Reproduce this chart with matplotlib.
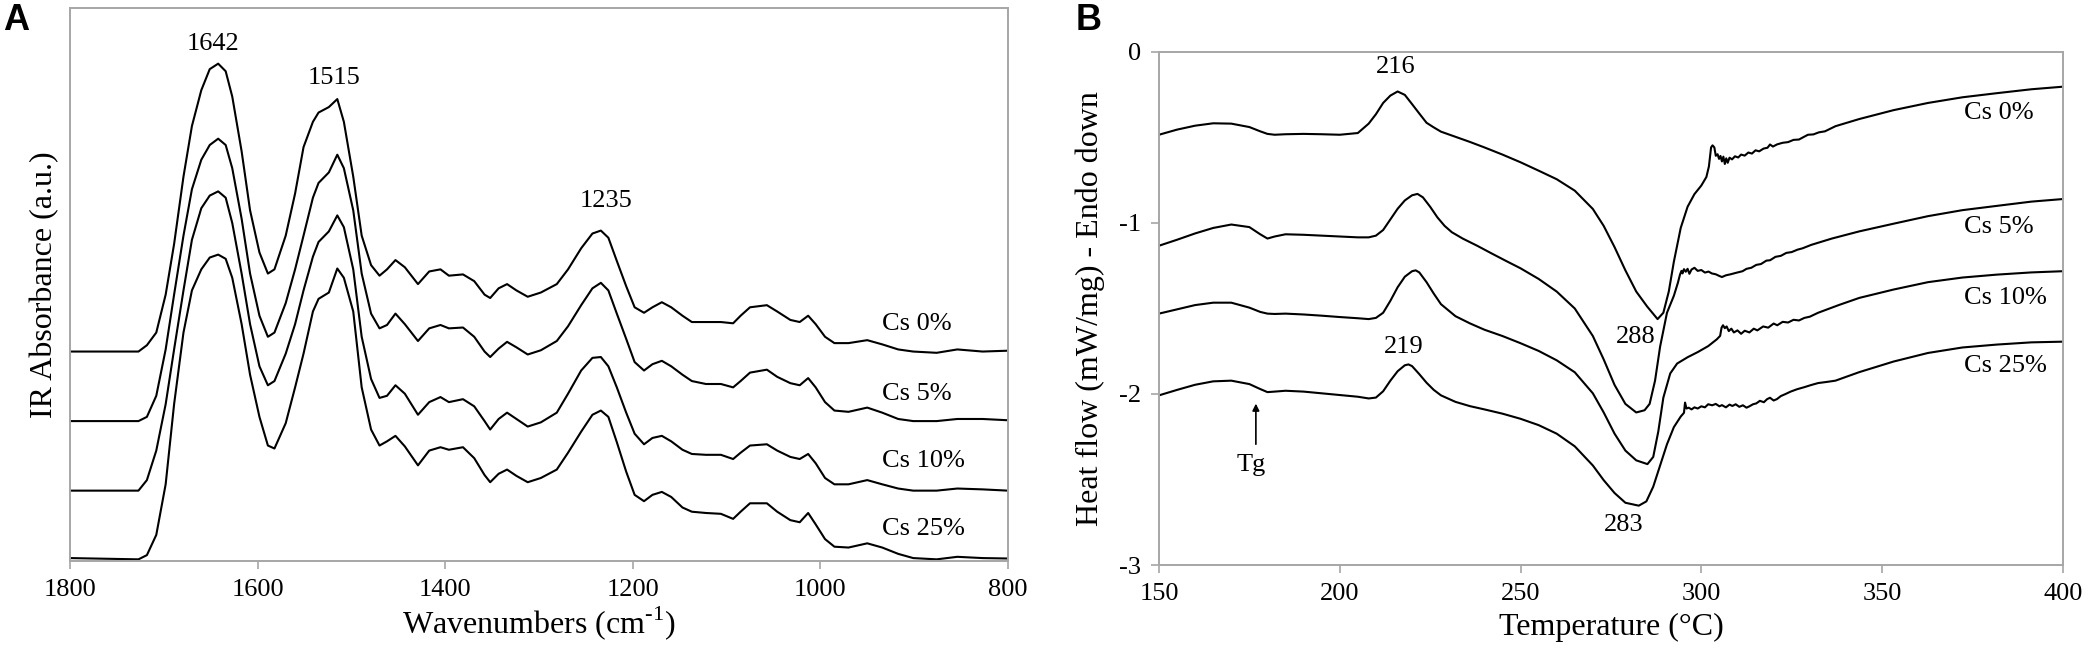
import matplotlib
matplotlib.use("Agg")
import matplotlib.pyplot as plt

plt.rcParams['font.family'] = ['Liberation Serif', 'DejaVu Serif']
plt.rcParams['mathtext.fontset'] = 'custom'
plt.rcParams['mathtext.rm'] = 'Liberation Serif'
plt.rcParams['axes.unicode_minus'] = False

# ---------------- Panel A : FTIR spectra ----------------
wavenumber = [1800, 1727, 1718, 1708, 1698, 1689, 1679, 1670, 1660, 1651,
              1642, 1634, 1627, 1617, 1608, 1598, 1589, 1582, 1570, 1560,
              1551, 1541, 1535, 1524, 1515, 1508, 1498, 1489, 1479, 1470,
              1462, 1453, 1443, 1429, 1417, 1405, 1396, 1381, 1369, 1358,
              1352, 1343, 1334, 1324, 1312, 1298, 1281, 1269, 1255, 1243,
              1234, 1226, 1217, 1207, 1198, 1188, 1179, 1169, 1159, 1147,
              1137, 1122, 1106, 1093, 1085, 1075, 1057, 1046, 1032, 1022,
              1013, 1005, 995, 985, 970, 950, 934, 917, 901, 876,
              854, 827, 800]

abs_cs0 = [0.493, 0.493, 0.508, 0.538, 0.628, 0.748, 0.908, 1.028, 1.113, 1.163,
           1.176, 1.158, 1.098, 0.968, 0.828, 0.728, 0.678, 0.688, 0.768, 0.868,
           0.978, 1.038, 1.060, 1.073, 1.092, 1.038, 0.908, 0.768, 0.698, 0.673,
           0.688, 0.710, 0.693, 0.653, 0.683, 0.688, 0.673, 0.676, 0.660, 0.628,
           0.620, 0.643, 0.653, 0.638, 0.623, 0.633, 0.653, 0.688, 0.738, 0.773,
           0.780, 0.763, 0.708, 0.648, 0.598, 0.585, 0.598, 0.610, 0.598, 0.578,
           0.563, 0.563, 0.563, 0.560, 0.578, 0.598, 0.603, 0.588, 0.568, 0.563,
           0.578, 0.558, 0.528, 0.513, 0.513, 0.520, 0.510, 0.498, 0.493, 0.490,
           0.498, 0.493, 0.495]
abs_cs5 = [0.328, 0.328, 0.338, 0.388, 0.498, 0.628, 0.768, 0.878, 0.948, 0.983,
           0.998, 0.983, 0.928, 0.808, 0.678, 0.578, 0.528, 0.538, 0.608, 0.688,
           0.768, 0.858, 0.893, 0.918, 0.960, 0.928, 0.828, 0.678, 0.583, 0.548,
           0.556, 0.583, 0.558, 0.518, 0.548, 0.556, 0.548, 0.550, 0.528, 0.493,
           0.480, 0.500, 0.516, 0.503, 0.486, 0.496, 0.518, 0.553, 0.603, 0.643,
           0.656, 0.638, 0.583, 0.523, 0.468, 0.448, 0.463, 0.471, 0.458, 0.438,
           0.423, 0.416, 0.416, 0.408, 0.423, 0.443, 0.450, 0.433, 0.418, 0.413,
           0.430, 0.408, 0.373, 0.353, 0.350, 0.360, 0.348, 0.333, 0.328, 0.328,
           0.333, 0.333, 0.330]
abs_cs10 = [0.163, 0.163, 0.188, 0.258, 0.368, 0.498, 0.638, 0.758, 0.833, 0.863,
            0.873, 0.858, 0.798, 0.678, 0.558, 0.458, 0.413, 0.423, 0.488, 0.558,
            0.638, 0.718, 0.753, 0.778, 0.816, 0.788, 0.688, 0.528, 0.428, 0.383,
            0.388, 0.413, 0.393, 0.343, 0.373, 0.385, 0.373, 0.380, 0.363, 0.328,
            0.308, 0.333, 0.348, 0.333, 0.315, 0.325, 0.348, 0.393, 0.448, 0.478,
            0.480, 0.458, 0.408, 0.348, 0.298, 0.273, 0.288, 0.293, 0.280, 0.260,
            0.250, 0.248, 0.248, 0.238, 0.253, 0.270, 0.273, 0.258, 0.243, 0.238,
            0.250, 0.228, 0.193, 0.178, 0.178, 0.188, 0.178, 0.168, 0.163, 0.163,
            0.168, 0.166, 0.163]
abs_cs25 = [0.003, 0.000, 0.010, 0.058, 0.178, 0.368, 0.538, 0.638, 0.688, 0.716,
            0.723, 0.713, 0.668, 0.558, 0.438, 0.338, 0.270, 0.263, 0.323, 0.408,
            0.488, 0.588, 0.618, 0.633, 0.690, 0.668, 0.588, 0.408, 0.308, 0.270,
            0.280, 0.293, 0.268, 0.223, 0.258, 0.266, 0.260, 0.266, 0.240, 0.200,
            0.183, 0.203, 0.213, 0.198, 0.183, 0.193, 0.213, 0.253, 0.303, 0.343,
            0.353, 0.338, 0.278, 0.208, 0.153, 0.138, 0.153, 0.160, 0.148, 0.123,
            0.113, 0.110, 0.108, 0.096, 0.113, 0.133, 0.133, 0.113, 0.093, 0.088,
            0.110, 0.083, 0.048, 0.030, 0.028, 0.038, 0.028, 0.013, 0.003, 0.000,
            0.006, 0.003, 0.002]

ir_series = [abs_cs0, abs_cs5, abs_cs10, abs_cs25]
series_names = ['Cs 0%', 'Cs 5%', 'Cs 10%', 'Cs 25%']
ir_label_y = [0.558, 0.393, 0.233, 0.073]
ir_peaks = [('1642', 1648, 1.223), ('1515', 1518, 1.143), ('1235', 1229, 0.850)]

# ---------------- Panel B : DSC thermograms ----------------
temp_cs0 = [150, 155, 160, 165, 170, 175, 178, 180, 182, 185, 190, 195, 200, 205, 208,
            210, 212, 214, 216, 218, 220, 222, 224, 226, 228, 232, 236, 240, 245, 250,
            255, 260, 265, 270, 273, 276, 279, 282, 285, 287.9, 289.5, 291, 292.4, 294.3,
            296.2, 298.1, 300, 301.4, 302.1, 302.7, 303.1, 303.6, 304.0, 304.5, 304.9,
            305.3, 305.7, 306.1, 306.5, 306.9, 307.3, 307.8, 308.5, 309.3, 310.2, 311.0,
            312.0, 313.0, 314.0, 315.0, 316.0, 317.2, 318.3, 319.0, 319.8, 321.0, 322.5,
            324.0, 325.5, 327.0, 328.5, 329.5, 331.0, 332.5, 334.2, 337.1, 343.7, 353.2,
            362.7, 372.2, 381.7, 391.3, 400]
hf_cs0 = [-0.484, -0.454, -0.431, -0.417, -0.419, -0.439, -0.464, -0.479, -0.484, -0.481,
          -0.479, -0.481, -0.484, -0.474, -0.419, -0.364, -0.298, -0.255, -0.231, -0.251,
          -0.305, -0.360, -0.414, -0.441, -0.466, -0.496, -0.526, -0.558, -0.600, -0.645,
          -0.694, -0.744, -0.811, -0.918, -1.017, -1.141, -1.277, -1.401, -1.488, -1.562,
          -1.525, -1.401, -1.227, -1.029, -0.905, -0.831, -0.781, -0.731, -0.669, -0.558,
          -0.546, -0.558, -0.607, -0.598, -0.625, -0.608, -0.640, -0.612, -0.655, -0.622,
          -0.648, -0.618, -0.628, -0.610, -0.617, -0.600, -0.606, -0.588, -0.594, -0.575,
          -0.581, -0.565, -0.560, -0.541, -0.553, -0.540, -0.531, -0.527, -0.514, -0.512,
          -0.495, -0.484, -0.482, -0.470, -0.464, -0.434, -0.392, -0.340, -0.298, -0.265,
          -0.241, -0.218, -0.203]

temp_cs5 = [150, 155, 160, 165, 170, 175, 178, 180, 182, 185, 190, 195, 200, 205, 208,
            210, 212, 214, 216, 218, 220, 221.5, 223, 225, 227, 229, 231, 234, 238, 242,
            246, 250, 255, 260, 265, 270, 273, 276, 279, 282, 284.3, 285.7, 287.2, 288.6,
            290.5, 292.4, 293.5, 294.1, 294.5, 294.8, 295.2, 295.7, 296.2, 296.7, 297.3,
            298.1, 299.0, 300.0, 301.0, 302.0, 302.9, 304.0, 305.0, 305.7, 306.8, 308.1,
            309.5, 311.4, 312.5, 313.8, 315.2, 316.5, 318.0, 319.0, 320.5, 322.0, 323.5,
            325.0, 326.6, 328.0, 330.4, 336.1, 343.7, 353.2, 362.7, 372.2, 381.7, 391.3, 400]
hf_cs5 = [-1.133, -1.098, -1.061, -1.029, -1.009, -1.024, -1.066, -1.091, -1.079, -1.066,
          -1.069, -1.074, -1.079, -1.084, -1.084, -1.074, -1.041, -0.979, -0.917, -0.868,
          -0.838, -0.830, -0.850, -0.905, -0.967, -1.017, -1.054, -1.091, -1.133, -1.178,
          -1.222, -1.265, -1.327, -1.401, -1.500, -1.661, -1.798, -1.947, -2.058, -2.108,
          -2.095, -2.058, -1.922, -1.723, -1.525, -1.426, -1.351, -1.302, -1.280, -1.295,
          -1.270, -1.285, -1.268, -1.297, -1.272, -1.262, -1.280, -1.275, -1.290, -1.284,
          -1.295, -1.300, -1.310, -1.316, -1.306, -1.300, -1.292, -1.282, -1.268, -1.262,
          -1.245, -1.240, -1.220, -1.218, -1.198, -1.192, -1.175, -1.170, -1.156, -1.148,
          -1.128, -1.091, -1.049, -1.004, -0.960, -0.925, -0.900, -0.875, -0.860]

temp_cs10 = [150, 155, 160, 165, 170, 175, 178, 180, 182, 185, 190, 195, 200, 205, 208,
             210, 212, 214, 216, 218, 220, 221, 222, 224, 226, 228, 232, 236, 240, 245,
             250, 255, 260, 265, 270, 273, 276, 279, 282, 285.1, 286.7, 288.1, 289.5, 291.4,
             293.3, 296.2, 299.0, 301.9, 304.3, 305.2, 305.6, 306.0, 306.5, 307.0, 307.6,
             308.3, 309.0, 310.0, 311.0, 312.0, 313.3, 314.5, 315.5, 317.1, 318.5, 320.0,
             321.0, 322.5, 324.0, 325.5, 327.0, 328.5, 330.0, 332.3, 338, 343.7, 353.2,
             362.7, 372.2, 381.7, 391.3, 400]
hf_cs10 = [-1.530, -1.505, -1.480, -1.466, -1.466, -1.495, -1.520, -1.530, -1.532, -1.530,
           -1.535, -1.542, -1.550, -1.557, -1.562, -1.555, -1.525, -1.455, -1.376, -1.314,
           -1.282, -1.277, -1.289, -1.346, -1.413, -1.475, -1.545, -1.587, -1.624, -1.661,
           -1.703, -1.748, -1.803, -1.873, -1.996, -2.108, -2.232, -2.331, -2.388, -2.410,
           -2.368, -2.219, -2.021, -1.880, -1.822, -1.785, -1.755, -1.720, -1.680, -1.660,
           -1.612, -1.598, -1.615, -1.605, -1.632, -1.618, -1.640, -1.628, -1.648, -1.630,
           -1.640, -1.618, -1.628, -1.605, -1.612, -1.588, -1.598, -1.578, -1.582, -1.566,
           -1.570, -1.555, -1.548, -1.525, -1.480, -1.438, -1.389, -1.346, -1.319, -1.302,
           -1.289, -1.282]

temp_cs25 = [150, 155, 160, 165, 170, 175, 178, 180, 182, 185, 190, 195, 200, 205, 208,
             210, 212, 214, 216, 218, 219, 220, 222, 224, 226, 228, 232, 236, 240, 245,
             250, 255, 260, 265, 270, 273, 276, 279, 282.7, 284.8, 286.7, 288.6, 290.5, 292.4,
             294.3, 295.2, 295.5, 295.9, 296.5, 297.3, 298.1, 299.0, 300.0, 301.0, 301.9,
             303.0, 304.0, 305.0, 305.7, 306.8, 307.8, 308.6, 309.5, 310.5, 311.5, 312.5,
             313.3, 314.3, 315.2, 316.2, 317.3, 318.2, 319.0, 320.0, 320.9, 322.0, 323.3,
             324.7, 326.5, 328.5, 330.3, 332.3, 334.5, 337.1, 343.7, 353.2, 362.7, 372.2,
             381.7, 391.3, 400]
hf_cs25 = [-2.008, -1.976, -1.946, -1.926, -1.922, -1.942, -1.971, -1.989, -1.986, -1.981,
           -1.986, -1.996, -2.006, -2.016, -2.026, -2.021, -1.984, -1.922, -1.867, -1.832,
           -1.827, -1.837, -1.884, -1.934, -1.976, -2.008, -2.046, -2.071, -2.090, -2.115,
           -2.145, -2.182, -2.232, -2.306, -2.418, -2.504, -2.579, -2.636, -2.653, -2.628,
           -2.542, -2.418, -2.294, -2.194, -2.132, -2.110, -2.050, -2.085, -2.080, -2.090,
           -2.078, -2.085, -2.072, -2.078, -2.060, -2.066, -2.058, -2.072, -2.065, -2.078,
           -2.062, -2.070, -2.060, -2.075, -2.066, -2.080, -2.072, -2.060, -2.055, -2.040,
           -2.048, -2.030, -2.022, -2.038, -2.030, -2.012, -2.000, -1.986, -1.972, -1.960,
           -1.948, -1.936, -1.930, -1.922, -1.872, -1.810, -1.760, -1.728, -1.711, -1.698,
           -1.694]

dsc_temps = [temp_cs0, temp_cs5, temp_cs10, temp_cs25]
dsc_flows = [hf_cs0, hf_cs5, hf_cs10, hf_cs25]
dsc_label_y = [-0.355, -1.022, -1.438, -1.835]
dsc_peaks = [('216', 215.4, -0.087), ('219', 217.8, -1.723),
             ('288', 281.9, -1.666), ('283', 278.6, -2.765)]

# ---------------- figure ----------------
fig = plt.figure(figsize=(20.89, 6.63), dpi=100)
spine_col = '#a6a6a6'
tick_fs = 19
label_fs = 23

axA = fig.add_axes([0.0335, 0.1538, 0.449, 0.8341])
for y in ir_series:
    axA.plot(wavenumber, y, color='black', lw=1.5, solid_joinstyle='round')
axA.set_xlim(1800, 800)
axA.set_ylim(-0.004, 1.308)
axA.set_xticks([1800, 1600, 1400, 1200, 1000, 800])
axA.set_yticks([])
axA.tick_params(axis='x', direction='out', length=6, width=1.2, color=spine_col,
                labelsize=tick_fs, pad=7)
for name, y in zip(series_names, ir_label_y):
    axA.text(934, y, name, fontsize=tick_fs, ha='left', va='center')
for txt, x, y in ir_peaks:
    axA.text(x, y, txt, fontsize=tick_fs, ha='center', va='center')
axA.set_xlabel(r'Wavenumbers (cm$^{\text{-}1}$)', fontsize=label_fs, labelpad=2)
axA.set_ylabel('IR Absorbance (a.u.)', fontsize=label_fs, labelpad=8)

axB = fig.add_axes([0.5548, 0.1478, 0.4327, 0.7738])
for t, h in zip(dsc_temps, dsc_flows):
    axB.plot(t, h, color='black', lw=1.5, solid_joinstyle='round')
axB.set_xlim(150, 400)
axB.set_ylim(-3, 0)
axB.set_xticks([150, 200, 250, 300, 350, 400])
axB.set_yticks([0, -1, -2, -3])
axB.tick_params(direction='out', length=6, width=1.2, color=spine_col,
                labelsize=tick_fs, pad=7)
for name, y in zip(series_names, dsc_label_y):
    axB.text(372.7, y, name, fontsize=tick_fs, ha='left', va='center')
for txt, x, y in dsc_peaks:
    axB.text(x, y, txt, fontsize=tick_fs, ha='center', va='center')
axB.annotate('', xy=(176.8, -2.04), xytext=(176.8, -2.31),
             arrowprops=dict(arrowstyle='-|>', color='black', lw=1.2, mutation_scale=10))
axB.text(175.4, -2.418, 'Tg', fontsize=tick_fs, ha='center', va='center')
axB.set_xlabel('Temperature (°C)', fontsize=label_fs, labelpad=6)
axB.set_ylabel('Heat flow (mW/mg) - Endo down', fontsize=label_fs, labelpad=10)

for ax in (axA, axB):
    for sp in ax.spines.values():
        sp.set_color(spine_col)
        sp.set_linewidth(1.4)

fig.text(0.0015, 0.995, 'A', fontsize=26, fontweight='bold', family='Liberation Sans',
         ha='left', va='top')
fig.text(0.515, 0.995, 'B', fontsize=26, fontweight='bold', family='Liberation Sans',
         ha='left', va='top')

fig.savefig('out.png', dpi=100)
